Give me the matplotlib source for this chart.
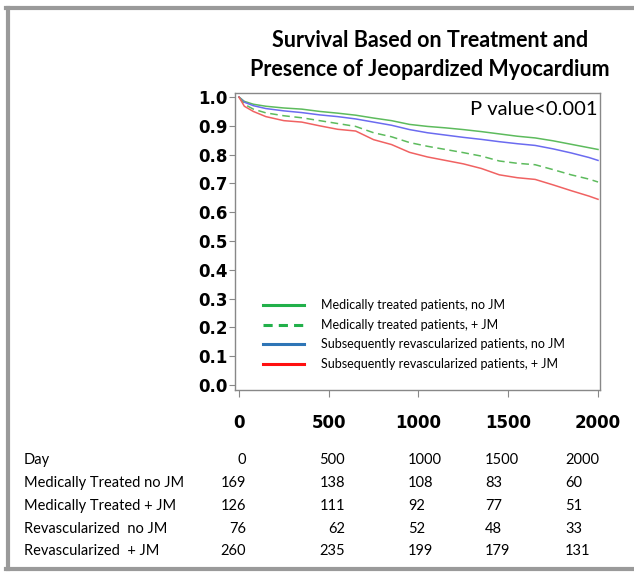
import matplotlib
matplotlib.use('Agg')
import matplotlib.pyplot as plt
from matplotlib.lines import Line2D

# survival curves
days = [0, 30, 80, 150, 250, 350, 450, 550, 650, 750, 850, 950, 1050, 1150,
        1250, 1350, 1450, 1550, 1650, 1750, 1850, 1950, 2000]
med_no_jm = [1.0, 0.985, 0.975, 0.968, 0.962, 0.958, 0.950, 0.944, 0.937, 0.927, 0.918, 0.905,
             0.898, 0.893, 0.887, 0.880, 0.872, 0.864, 0.858, 0.848, 0.836, 0.824, 0.818]
med_jm = [1.0, 0.975, 0.958, 0.945, 0.935, 0.928, 0.918, 0.908, 0.898, 0.876, 0.862, 0.842,
          0.829, 0.818, 0.807, 0.795, 0.778, 0.770, 0.765, 0.748, 0.730, 0.715, 0.705]
rev_no_jm = [1.0, 0.982, 0.970, 0.960, 0.952, 0.946, 0.938, 0.932, 0.924, 0.913, 0.902, 0.887,
             0.876, 0.868, 0.860, 0.853, 0.845, 0.838, 0.832, 0.820, 0.806, 0.790, 0.780]
rev_jm = [1.0, 0.968, 0.950, 0.932, 0.918, 0.913, 0.900, 0.888, 0.882, 0.852, 0.835, 0.808,
          0.792, 0.780, 0.768, 0.752, 0.730, 0.720, 0.714, 0.695, 0.675, 0.656, 0.645]

legend_labels = ["Medically treated patients, no JM", "Medically treated patients, + JM",
                 "Subsequently revascularized patients, no JM", "Subsequently revascularized patients, + JM"]

# numbers at risk
table_days = ["0", "500", "1000", "1500", "2000"]
row_names = ["Medically Treated no JM", "Medically Treated + JM", "Revascularized  no JM", "Revascularized  + JM"]
at_risk = [[169, 138, 108, 83, 60],
           [126, 111, 92, 77, 51],
           [76, 62, 52, 48, 33],
           [260, 235, 199, 179, 131]]

W, H = 634, 572
fig = plt.figure(figsize=(W / 100, H / 100), dpi=100)

ax = fig.add_axes([235 / W, 1 - 390 / H, 365 / W, 297 / H])
green_c, blue_c, red_c = '#5dbb5d', '#6b6bf0', '#f06262'
ax.plot(days, med_no_jm, color=green_c, lw=1.1)
ax.plot(days, rev_no_jm, color=blue_c, lw=1.1)
ax.plot(days, med_jm, color=green_c, lw=1.1, linestyle=(0, (5, 3)))
ax.plot(days, rev_jm, color=red_c, lw=1.1)

ax.set_xlim(-22, 2011)
ax.set_ylim(-0.017, 1.014)
ax.set_xticks([0, 500, 1000, 1500, 2000])
ax.set_yticks([i / 10 for i in range(11)])
ax.set_yticklabels(['%.1f' % (i / 10) for i in range(11)])
for lab in ax.get_xticklabels() + ax.get_yticklabels():
    lab.set_fontweight('bold')
    lab.set_fontsize(12)
    lab.set_family('DejaVu Sans')
ax.tick_params(axis='x', length=5, pad=12, color='#888888')
ax.tick_params(axis='y', length=4, pad=1, color='#888888')
for s in ax.spines.values():
    s.set_color('#888888')
    s.set_linewidth(1.0)

ax.text(1995, 0.955, "P value<0.001", ha='right', va='center', fontsize=14.5, family='Lato')

handles = [Line2D([], [], color='#22b04a', lw=2.2),
           Line2D([], [], color='#22b04a', lw=2.2, linestyle=(0, (3, 2))),
           Line2D([], [], color='#2e75b6', lw=2.2),
           Line2D([], [], color='#ff1010', lw=2.2)]
ax.legend(handles, legend_labels, loc='upper left', bbox_to_anchor=(0.077, 0.305),
          frameon=False, handlelength=3.3, handletextpad=1.3,
          labelspacing=0.6, borderpad=0, borderaxespad=0, prop={'family': 'Lato', 'size': 9})

fig.text(430 / W, 1 - 55 / H, "Survival Based on Treatment and\nPresence of Jeopardized Myocardium",
         ha='center', va='center', fontsize=15.5, fontweight='bold', family='Lato', linespacing=1.5)

# table of patients at risk
row_y = [460, 483, 506, 529, 551]
tfont = dict(fontsize=10.5, family='Lato')
fig.text(24 / W, 1 - row_y[0] / H, "Day", va='center', **tfont)
for i, name in enumerate(row_names):
    fig.text(24 / W, 1 - row_y[i + 1] / H, name, va='center', **tfont)
col_x = [246, 345, 408, 485, 565]
col_ha = ['right', 'right', 'left', 'left', 'left']
rows = [table_days] + [[str(v) for v in r] for r in at_risk]
for i, r in enumerate(rows):
    for j, v in enumerate(r):
        fig.text(col_x[j] / W, 1 - row_y[i] / H, v, ha=col_ha[j], va='center', **tfont)

# grey frame round the picture
fc = '#9a9a9a'
fig.add_artist(Line2D([8 / W, 8 / W], [1 - 8 / H, 1 - 569 / H], color=fc, lw=3, transform=fig.transFigure))
fig.add_artist(Line2D([6 / W, 1], [1 - 8 / H, 1 - 8 / H], color=fc, lw=3, transform=fig.transFigure))
fig.add_artist(Line2D([6 / W, 1], [1 - 569 / H, 1 - 569 / H], color=fc, lw=3, transform=fig.transFigure))

fig.savefig('out.png', dpi=100)
